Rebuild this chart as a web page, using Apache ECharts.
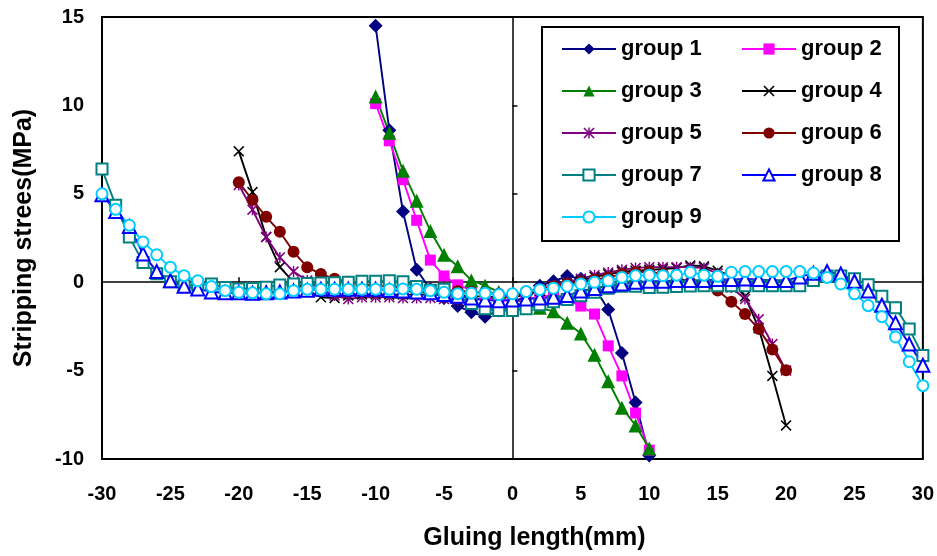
<!DOCTYPE html>
<html>
<head>
<meta charset="utf-8">
<script src="https://cdn.jsdelivr.net/npm/echarts@6/dist/echarts.min.js"></script>
<style>
  html, body { margin: 0; padding: 0; background: #fff; }
  #chart { width: 937px; height: 556px; }
</style>
</head>
<body>
<div id="chart"></div>
<script>
// Gluing positions (mm) for the three specimen lengths
const xShort = [-10, -9, -8, -7, -6, -5, -4, -3, -2, -1, 0, 1, 2, 3, 4, 5, 6, 7, 8, 9, 10];
const xMid = [-20, -19, -18, -17, -16, -15, -14, -13, -12, -11, -10, -9, -8, -7, -6, -5, -4, -3, -2, -1, 0,
  1, 2, 3, 4, 5, 6, 7, 8, 9, 10, 11, 12, 13, 14, 15, 16, 17, 18, 19, 20];
const xLong = [-30, -29, -28, -27, -26, -25, -24, -23, -22, -21, -20, -19, -18, -17, -16, -15, -14, -13, -12, -11, -10,
  -9, -8, -7, -6, -5, -4, -3, -2, -1, 0, 1, 2, 3, 4, 5, 6, 7, 8, 9, 10,
  11, 12, 13, 14, 15, 16, 17, 18, 19, 20, 21, 22, 23, 24, 25, 26, 27, 28, 29, 30];

// Stripping stress (MPa)
const group1 = [14.5, 8.6, 4.0, 0.7, -0.4, -0.9, -1.35, -1.7, -1.95, -1.6, -1.3, -0.7, -0.2, 0.05, 0.35, 0.2, -0.3, -1.55, -4.0, -6.8, -9.8];
const group2 = [10.1, 8.0, 5.8, 3.5, 1.25, 0.35, -0.15, -0.45, -0.75, -0.95, -1.1, -1.0, -0.8, -0.75, -1.0, -1.35, -1.8, -3.6, -5.3, -7.4, -9.5];
const group3 = [10.5, 8.45, 6.3, 4.6, 2.9, 1.55, 0.9, 0.1, -0.2, -0.55, -0.9, -1.2, -1.45, -1.65, -2.3, -2.9, -4.1, -5.6, -7.1, -8.1, -9.4];
const group4 = [7.4, 5.1, 2.55, 0.85, 0.0, -0.45, -0.85, -0.9, -0.75, -0.7, -0.7, -0.7, -0.7, -0.7, -0.7, -0.75, -0.75, -0.8, -0.8, -0.85, -0.85,
  -0.7, -0.5, -0.3, -0.1, 0.1, 0.3, 0.45, 0.6, 0.65, 0.7, 0.75, 0.8, 0.95, 0.9, 0.65, 0.35, -0.8, -2.6, -5.3, -8.1];
const group5 = [5.5, 4.1, 2.55, 1.4, 0.6, 0.1, -0.4, -0.75, -0.95, -0.85, -0.85, -0.85, -0.9, -0.9, -0.9, -0.95, -1.0, -1.0, -0.95, -0.9, -0.8,
  -0.6, -0.4, -0.2, 0.0, 0.2, 0.4, 0.55, 0.7, 0.8, 0.85, 0.85, 0.85, 0.85, 0.8, 0.5, -0.3, -0.95, -2.1, -3.5, -5.0];
const group6 = [5.65, 4.65, 3.7, 2.85, 1.72, 0.85, 0.46, 0.2, 0.02, -0.12, -0.2, -0.25, -0.3, -0.35, -0.4, -0.45, -0.5, -0.55, -0.6, -0.65, -0.75,
  -0.57, -0.42, -0.23, -0.1, 0.03, 0.14, 0.27, 0.46, 0.56, 0.6, 0.46, 0.27, 0.0, -0.2, -0.47, -1.1, -1.8, -2.64, -3.8, -4.98];
const group7 = [6.4, 4.35, 2.55, 1.12, 0.48, 0.03, -0.2, -0.15, -0.1, -0.3, -0.38, -0.35, -0.29, -0.16, -0.1, -0.08, -0.05, -0.03, 0.0, 0.05, 0.05,
  0.08, 0.03, -0.25, -0.45, -0.4, -0.8, -1.2, -1.5, -1.6, -1.6, -1.5, -1.28, -1.1, -0.98, -0.76, -0.57, -0.34, -0.23, -0.23, -0.3,
  -0.29, -0.25, -0.22, -0.2, -0.2, -0.2, -0.2, -0.2, -0.2, -0.2, -0.2, 0.1, 0.35, 0.35, 0.2, -0.15, -0.8, -1.45, -2.64, -4.15];
const group8 = [4.95, 4.0, 3.15, 1.6, 0.6, 0.08, -0.23, -0.38, -0.55, -0.6, -0.6, -0.62, -0.6, -0.55, -0.5, -0.45, -0.4, -0.4, -0.4, -0.4, -0.4,
  -0.45, -0.5, -0.55, -0.6, -0.7, -0.8, -0.9, -1.0, -1.05, -1.0, -0.95, -0.9, -0.85, -0.75, -0.5, -0.35, -0.2, -0.1, 0.0, 0.05,
  0.05, 0.1, 0.1, 0.1, 0.15, 0.15, 0.18, 0.15, 0.1, 0.1, 0.3, 0.5, 0.6, 0.46, 0.05, -0.5, -1.3, -2.3, -3.5, -4.7];
const group9 = [5.0, 4.12, 3.22, 2.28, 1.55, 0.84, 0.37, 0.08, -0.25, -0.48, -0.57, -0.6, -0.66, -0.66, -0.48, -0.4, -0.4, -0.4, -0.4, -0.4, -0.4,
  -0.4, -0.38, -0.4, -0.48, -0.57, -0.65, -0.62, -0.62, -0.7, -0.66, -0.53, -0.42, -0.34, -0.23, -0.1, 0.0, 0.08, 0.27, 0.37, 0.4,
  0.37, 0.4, 0.56, 0.4, 0.33, 0.56, 0.6, 0.6, 0.6, 0.6, 0.6, 0.52, 0.27, -0.1, -0.66, -1.32, -1.95, -3.1, -4.5, -5.85];

const seriesNames = ['group 1', 'group 2', 'group 3', 'group 4', 'group 5', 'group 6', 'group 7', 'group 8', 'group 9'];
const xTicks = [-30, -25, -20, -15, -10, -5, 0, 5, 10, 15, 20, 25, 30];
const yTicks = [-10, -5, 0, 5, 10, 15];

const FONT = '"Liberation Sans", Arial, sans-serif';
// Marker shapes: a cross and an asterisk built as filled outlines
const CROSS = 'path://M0,1L1,0L5,4L9,0L10,1L6,5L10,9L9,10L5,6L1,10L0,9L4,5Z';
const STAR = 'path://M0,1L1,0L5,4L9,0L10,1L6,5L10,9L9,10L5,6L1,10L0,9L4,5Z M4.35,0L5.65,0L5.65,10L4.35,10Z';

const styles = [
  { x: xShort, y: group1, color: '#000080', symbol: 'diamond', size: 14, empty: false },
  { x: xShort, y: group2, color: '#FF00FF', symbol: 'rect', size: 11, empty: false },
  { x: xShort, y: group3, color: '#008000', symbol: 'triangle', size: 14, empty: false },
  { x: xMid, y: group4, color: '#000000', symbol: CROSS, size: 11, empty: false },
  { x: xMid, y: group5, color: '#800080', symbol: STAR, size: 11, empty: false },
  { x: xMid, y: group6, color: '#800000', symbol: 'circle', size: 12, empty: false },
  { x: xLong, y: group7, color: '#008080', symbol: 'emptyRect', size: 11, empty: true },
  { x: xLong, y: group8, color: '#0000FF', symbol: 'emptyTriangle', size: 13, empty: true },
  { x: xLong, y: group9, color: '#00CCFF', symbol: 'emptyCircle', size: 11, empty: true }
];

const series = styles.map((s, i) => ({
  name: seriesNames[i],
  type: 'line',
  xAxisIndex: 0,
  yAxisIndex: 0,
  data: s.x.map((xv, k) => [xv, s.y[k]]),
  symbol: s.symbol,
  symbolSize: s.size,
  showAllSymbol: true,
  clip: false,
  lineStyle: { color: s.color, width: 1.9 },
  itemStyle: { color: s.color, borderColor: s.color, borderWidth: s.empty ? 2 : 0 },
  emphasis: { disabled: true },
  animation: false
}));

const legendText = { fontFamily: FONT, fontSize: 22, fontWeight: 'bold', color: '#000', lineHeight: 24 };
const legendBase = {
  orient: 'vertical', top: 37, itemWidth: 54, itemHeight: 14, itemGap: 18, padding: 0,
  textStyle: legendText, selectedMode: false, z: 5
};

const chart = echarts.init(document.getElementById('chart'), null, { renderer: 'canvas' });
chart.setOption({
  backgroundColor: '#fff',
  animation: false,
  grid: { left: 102, right: 13, top: 17, bottom: 96, show: true, borderColor: '#000', borderWidth: 2, backgroundColor: 'transparent' },
  xAxis: [
    {
      type: 'value', min: xTicks[0], max: xTicks[xTicks.length - 1], interval: 5, position: 'bottom',
      name: 'Gluing length(mm)', nameLocation: 'middle', nameGap: 67,
      nameTextStyle: { fontFamily: FONT, fontSize: 25, fontWeight: 'bold', color: '#000', padding: [0, 0, 0, 44] },
      axisLine: { show: false, onZero: false }, axisTick: { show: false }, splitLine: { show: false },
      axisLabel: { fontFamily: FONT, fontSize: 20, fontWeight: 'bold', color: '#000', margin: 25 }
    },
    {
      type: 'value', min: xTicks[0], max: xTicks[xTicks.length - 1], interval: 5, position: 'bottom',
      axisLine: { show: true, onZero: true, onZeroAxisIndex: 0, lineStyle: { color: '#000', width: 1.5 } },
      axisTick: { show: true, inside: true, length: 5, lineStyle: { color: '#000', width: 1.5 } },
      axisLabel: { show: false }, splitLine: { show: false }
    }
  ],
  yAxis: [
    {
      type: 'value', min: yTicks[0], max: yTicks[yTicks.length - 1], interval: 5, position: 'left',
      name: 'Stripping strees(MPa)', nameLocation: 'middle', nameGap: 65,
      nameTextStyle: { fontFamily: FONT, fontSize: 25, fontWeight: 'bold', color: '#000' },
      axisLine: { show: false, onZero: false }, axisTick: { show: false }, splitLine: { show: false },
      axisLabel: { fontFamily: FONT, fontSize: 20, fontWeight: 'bold', color: '#000', margin: 18 }
    },
    {
      type: 'value', min: yTicks[0], max: yTicks[yTicks.length - 1], interval: 5, position: 'left',
      axisLine: { show: true, onZero: true, onZeroAxisIndex: 0, lineStyle: { color: '#000', width: 1.5 } },
      axisTick: { show: true, inside: true, length: 5, lineStyle: { color: '#000', width: 1.5 } },
      axisLabel: { show: false }, splitLine: { show: false }
    }
  ],
  legend: [
    Object.assign({}, legendBase, { left: 561, data: ['group 1', 'group 3', 'group 5', 'group 7', 'group 9'] }),
    Object.assign({}, legendBase, { left: 741, data: ['group 2', 'group 4', 'group 6', 'group 8'] })
  ],
  graphic: [
    {
      type: 'rect', z: 3, left: 541, top: 26,
      shape: { width: 357, height: 214 },
      style: { fill: '#fff', stroke: '#000', lineWidth: 2 }
    }
  ],
  series: series
});
</script>
</body>
</html>
